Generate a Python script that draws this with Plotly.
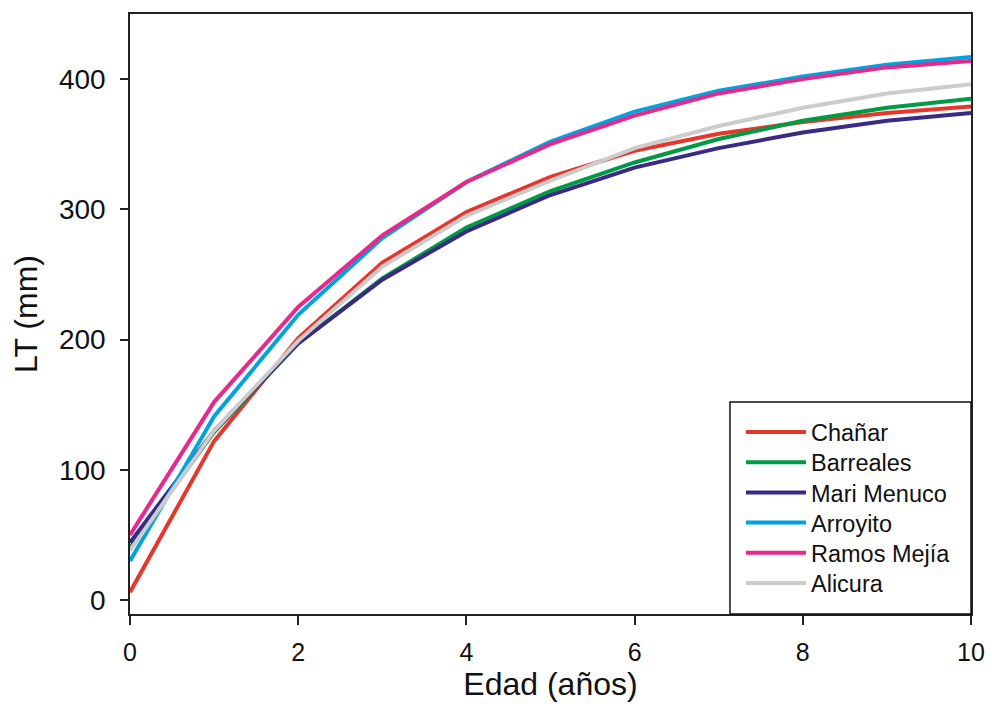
import plotly.graph_objects as go

edad = [0, 1, 2, 3, 4, 5, 6, 7, 8, 9, 10]

chanar = [6, 122, 201, 259, 298, 325, 345, 358, 367, 374, 379]
barreales = [40, 129, 197, 247, 286, 314, 336, 354, 368, 378, 385]
mari_menuco = [44, 130, 197, 246, 283, 311, 332, 347, 359, 368, 374]
arroyito = [30, 141, 219, 278, 321, 352, 375, 391, 402, 411, 417]
ramos_mejia = [50, 152, 225, 280, 321, 350, 372, 389, 400, 409, 414]
alicura = [38, 130, 199, 256, 295, 322, 347, 364, 378, 389, 396]

series_names = ["Chañar", "Barreales", "Mari Menuco", "Arroyito", "Ramos Mejía", "Alicura"]
series_values = [chanar, barreales, mari_menuco, arroyito, ramos_mejia, alicura]
colors = ["#E7362C", "#009A44", "#3A2A85", "#00A3DF", "#E8288A", "#CCCCCC"]

x_ticks = [0, 2, 4, 6, 8, 10]
y_ticks = [0, 100, 200, 300, 400]

font_family = "Liberation Sans, Arial, sans-serif"

fig = go.Figure()
legend_ids = ["legend"] + ["legend%d" % (i + 1) for i in range(1, len(series_names))]
for lid, name, vals, col in zip(legend_ids, series_names, series_values, colors):
    fig.add_trace(go.Scatter(x=edad, y=vals, mode="lines", name=name,
                             line=dict(color=col, width=4), legend=lid))

# legend frame (opaque box behind legend entries)
fig.add_shape(type="rect", xref="paper", yref="paper",
              x0=0.7134, x1=1.0, y0=0.0, y1=0.3533,
              fillcolor="white", line=dict(color="#111111", width=1.5),
              layer="above")

# one legend per entry, stacked inside the frame (plot area: 600 px tall)
first_center = 0.303   # paper y of first entry
step = 30.2 / 600.0
legend_layouts = {}
for i, lid in enumerate(legend_ids):
    legend_layouts[lid] = dict(
        x=0.7265, y=first_center - i * step, xanchor="left", yanchor="middle",
        bgcolor="rgba(0,0,0,0)", borderwidth=0,
        font=dict(size=23.5, family=font_family, color="#111111"),
        itemwidth=60)

fig.update_layout(
    width=992, height=714,
    margin=dict(l=130, r=21, t=14, b=100),
    paper_bgcolor="white", plot_bgcolor="white",
    font=dict(family=font_family, color="#111111"),
    showlegend=True,
    xaxis=dict(range=[0, 10], tickvals=x_ticks, ticks="outside", ticklen=9,
               tickwidth=1.5, tickcolor="#222222", automargin=False,
               showline=True, linecolor="#222222", linewidth=1.5, mirror=True,
               showgrid=False, zeroline=False,
               tickfont=dict(size=25), ticklabelstandoff=6,
               title=dict(text="Edad (años)", font=dict(size=32), standoff=7)),
    yaxis=dict(range=[-10.75, 450], tickvals=y_ticks, ticks="outside", ticklen=8,
               tickwidth=1.5, tickcolor="#222222", automargin=False,
               showline=True, linecolor="#222222", linewidth=1.5, mirror=True,
               showgrid=False, zeroline=False,
               tickfont=dict(size=28), ticklabelstandoff=9,
               title=dict(text="LT (mm)", font=dict(size=32), standoff=12)),
    **legend_layouts,
)

fig.write_html("out.html")
